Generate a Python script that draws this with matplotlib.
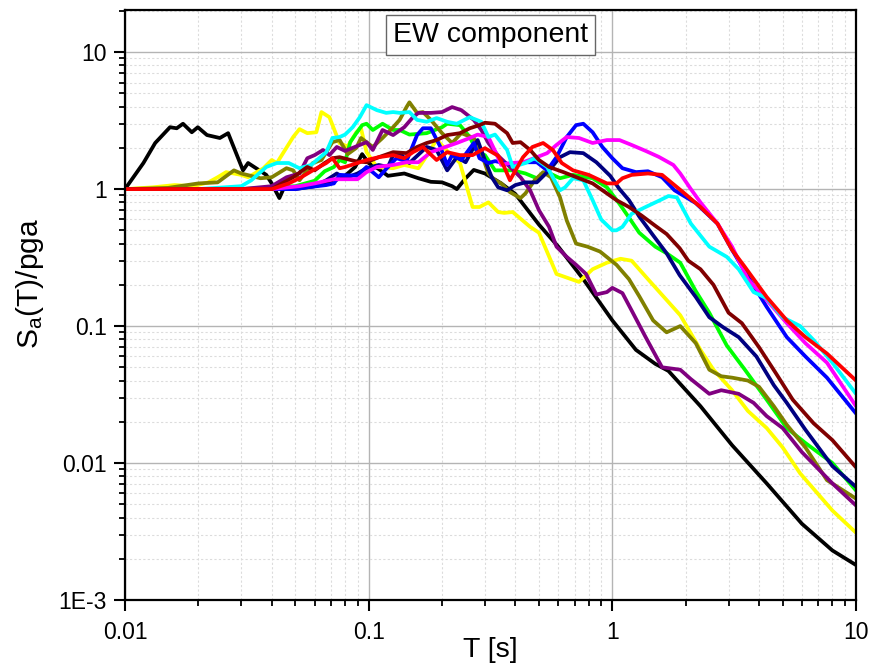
import matplotlib
matplotlib.use("Agg")
import matplotlib.pyplot as plt
from matplotlib.ticker import LogLocator, FixedLocator, FixedFormatter, NullFormatter
import numpy as np

plt.rcParams['font.family'] = ['Liberation Sans', 'DejaVu Sans']
plt.rcParams['mathtext.fontset'] = 'custom'
plt.rcParams['mathtext.rm'] = 'Liberation Sans'
plt.rcParams['mathtext.it'] = 'Liberation Sans'

# ---- data (T [s], Sa/pga) ----
black_T = [0.01, 0.0119, 0.0133, 0.0153, 0.0163, 0.0173, 0.0188, 0.0199, 0.0217, 0.0245, 0.0265, 0.0305, 0.032, 0.038, 0.040, 0.043, 0.045, 0.05, 0.06, 0.07, 0.08, 0.088, 0.094, 0.1, 0.11, 0.12, 0.14, 0.16, 0.18, 0.2, 0.22, 0.23, 0.25, 0.27, 0.3, 0.35, 0.4, 0.5, 0.6, 0.76, 1.0, 1.25, 1.5, 1.7, 2.3, 3.1, 4.3, 6.0, 8.0, 10.0]
black_S = [1.0, 1.55, 2.17, 2.83, 2.78, 3.0, 2.6, 2.83, 2.48, 2.36, 2.56, 1.37, 1.55, 1.27, 1.1, 0.86, 1.03, 1.02, 1.05, 1.12, 1.25, 1.45, 1.8, 1.55, 1.4, 1.25, 1.3, 1.2, 1.13, 1.12, 1.05, 1.0, 1.2, 1.38, 1.3, 1.1, 0.92, 0.55, 0.38, 0.22, 0.11, 0.067, 0.053, 0.047, 0.026, 0.0135, 0.0071, 0.0036, 0.0023, 0.0018]

yellow_T = [0.01, 0.013, 0.016, 0.019, 0.022, 0.024, 0.026, 0.03, 0.032, 0.037, 0.04, 0.042, 0.049, 0.052, 0.056, 0.061, 0.064, 0.069, 0.076, 0.082, 0.089, 0.093, 0.098, 0.108, 0.126, 0.14, 0.16, 0.175, 0.19, 0.21, 0.237, 0.267, 0.285, 0.31, 0.34, 0.36, 0.39, 0.46, 0.5, 0.59, 0.73, 0.83, 0.95, 1.08, 1.2, 1.4, 1.67, 1.9, 2.3, 2.6, 3.1, 3.6, 4.3, 5.0, 5.9, 8.0, 10.0]
yellow_S = [1.0, 1.03, 1.07, 1.05, 1.12, 1.22, 1.33, 1.27, 1.22, 1.42, 1.63, 1.55, 2.4, 2.74, 2.56, 2.6, 3.65, 3.35, 2.16, 2.05, 2.6, 2.78, 1.86, 1.45, 1.42, 1.5, 1.42, 1.8, 2.3, 1.9, 1.55, 0.74, 0.74, 0.8, 0.68, 0.67, 0.68, 0.53, 0.48, 0.24, 0.21, 0.26, 0.29, 0.31, 0.3, 0.22, 0.155, 0.12, 0.067, 0.048, 0.034, 0.024, 0.018, 0.013, 0.0084, 0.0045, 0.0031]

cyan_T = [0.01, 0.02, 0.03, 0.033, 0.038, 0.042, 0.047, 0.052, 0.058, 0.067, 0.071, 0.076, 0.08, 0.086, 0.092, 0.098, 0.108, 0.118, 0.126, 0.134, 0.147, 0.158, 0.173, 0.19, 0.21, 0.23, 0.26, 0.29, 0.31, 0.33, 0.37, 0.39, 0.44, 0.48, 0.54, 0.61, 0.64, 0.69, 0.76, 0.83, 0.9, 1.0, 1.04, 1.1, 1.2, 1.37, 1.57, 1.7, 1.84, 2.1, 2.5, 2.95, 3.3, 3.8, 4.3, 5.0, 5.9, 6.7, 8.0, 10.0]
cyan_S = [1.0, 1.0, 1.05, 1.16, 1.45, 1.55, 1.55, 1.42, 1.5, 1.86, 2.36, 2.4, 2.5, 2.83, 3.35, 4.1, 3.77, 3.6, 3.65, 3.6, 3.65, 3.2, 3.1, 3.3, 3.1, 3.0, 3.35, 3.1, 2.4, 2.5, 1.93, 1.45, 1.55, 1.68, 1.45, 0.98, 1.03, 1.2, 1.16, 0.83, 0.6, 0.5, 0.5, 0.53, 0.66, 0.74, 0.83, 0.89, 0.87, 0.56, 0.38, 0.32, 0.26, 0.177, 0.16, 0.116, 0.1, 0.079, 0.054, 0.032]

green_T = [0.01, 0.03, 0.05, 0.06, 0.066, 0.072, 0.076, 0.08, 0.084, 0.089, 0.094, 0.098, 0.104, 0.114, 0.126, 0.134, 0.147, 0.173, 0.2, 0.21, 0.237, 0.26, 0.28, 0.3, 0.33, 0.39, 0.44, 0.49, 0.54, 0.61, 0.69, 0.83, 0.95, 1.07, 1.17, 1.29, 1.5, 1.67, 1.9, 2.2, 2.5, 2.95, 3.5, 4.3, 5.2, 6.2, 8.0, 10.0]
green_S = [1.0, 1.0, 1.05, 1.15, 1.35, 1.45, 1.63, 1.57, 2.2, 2.56, 2.93, 3.0, 2.7, 3.0, 2.7, 2.7, 2.5, 2.56, 2.83, 3.0, 2.93, 2.4, 1.83, 1.77, 1.37, 1.37, 1.3, 1.2, 1.33, 1.2, 1.27, 1.2, 1.03, 0.78, 0.62, 0.48, 0.38, 0.34, 0.29, 0.18, 0.125, 0.072, 0.048, 0.029, 0.018, 0.014, 0.01, 0.0063]

olive_T = [0.01, 0.015, 0.02, 0.024, 0.028, 0.03, 0.036, 0.04, 0.046, 0.049, 0.052, 0.059, 0.064, 0.071, 0.076, 0.082, 0.089, 0.093, 0.104, 0.114, 0.126, 0.134, 0.143, 0.147, 0.158, 0.167, 0.18, 0.2, 0.22, 0.24, 0.27, 0.29, 0.31, 0.33, 0.35, 0.38, 0.42, 0.44, 0.48, 0.52, 0.56, 0.61, 0.65, 0.71, 0.79, 0.89, 1.04, 1.17, 1.29, 1.47, 1.67, 1.9, 2.2, 2.5, 2.8, 3.1, 3.6, 4.0, 4.6, 5.2, 6.2, 7.6, 10.0]
olive_S = [1.0, 1.02, 1.1, 1.12, 1.37, 1.3, 1.2, 1.22, 1.42, 1.37, 1.16, 1.55, 1.63, 2.2, 2.28, 1.8, 2.0, 2.36, 2.03, 2.36, 2.83, 3.2, 3.97, 4.3, 3.6, 3.65, 3.2, 2.56, 2.17, 2.56, 2.36, 1.83, 1.3, 1.16, 1.1, 0.95, 0.86, 0.93, 1.16, 1.33, 1.22, 0.87, 0.59, 0.4, 0.38, 0.35, 0.28, 0.22, 0.165, 0.11, 0.09, 0.1, 0.075, 0.048, 0.043, 0.042, 0.04, 0.036, 0.026, 0.019, 0.013, 0.0075, 0.0055]

purple_T = [0.01, 0.03, 0.04, 0.046, 0.052, 0.056, 0.06, 0.065, 0.069, 0.074, 0.08, 0.089, 0.098, 0.104, 0.114, 0.126, 0.14, 0.152, 0.16, 0.18, 0.2, 0.22, 0.24, 0.27, 0.29, 0.31, 0.34, 0.38, 0.42, 0.46, 0.5, 0.55, 0.59, 0.65, 0.71, 0.78, 0.86, 0.95, 1.0, 1.1, 1.2, 1.37, 1.6, 1.9, 2.1, 2.5, 2.8, 3.3, 3.8, 4.3, 5.0, 6.0, 8.0, 10.0]
purple_S = [1.0, 1.0, 1.05, 1.22, 1.3, 1.68, 1.77, 1.93, 1.77, 2.03, 1.9, 2.05, 2.2, 1.93, 2.7, 2.48, 2.83, 3.35, 3.6, 3.6, 3.65, 3.97, 3.77, 3.2, 2.7, 2.17, 1.75, 1.45, 1.22, 0.98, 0.7, 0.53, 0.38, 0.32, 0.28, 0.24, 0.17, 0.177, 0.19, 0.174, 0.13, 0.083, 0.05, 0.048, 0.041, 0.032, 0.034, 0.032, 0.0275, 0.022, 0.018, 0.012, 0.0071, 0.0049]

red_T = [0.01, 0.04, 0.047, 0.052, 0.059, 0.067, 0.071, 0.076, 0.08, 0.085, 0.09, 0.098, 0.11, 0.126, 0.14, 0.152, 0.167, 0.19, 0.21, 0.237, 0.267, 0.3, 0.34, 0.36, 0.38, 0.43, 0.47, 0.52, 0.57, 0.62, 0.69, 0.8, 0.95, 1.04, 1.1, 1.2, 1.4, 1.6, 1.95, 2.3, 2.7, 3.1, 3.5, 4.3, 5.2, 6.2, 7.6, 10.0]
red_S = [1.0, 1.0, 1.1, 1.2, 1.37, 1.55, 1.68, 1.42, 1.45, 1.5, 1.55, 1.63, 1.71, 1.77, 1.68, 1.86, 2.03, 1.63, 1.86, 1.77, 1.77, 1.99, 1.75, 1.45, 1.16, 1.71, 2.03, 2.17, 1.93, 1.55, 1.37, 1.27, 1.1, 1.1, 1.2, 1.27, 1.3, 1.27, 0.95, 0.74, 0.56, 0.36, 0.27, 0.163, 0.11, 0.083, 0.063, 0.04]

magenta_T = [0.01, 0.04, 0.052, 0.06, 0.072, 0.09, 0.098, 0.108, 0.126, 0.143, 0.16, 0.18, 0.2, 0.23, 0.26, 0.28, 0.31, 0.33, 0.35, 0.38, 0.43, 0.49, 0.54, 0.59, 0.65, 0.73, 0.83, 0.95, 1.07, 1.2, 1.37, 1.55, 1.78, 1.9, 2.1, 2.3, 2.7, 3.1, 3.6, 4.3, 5.2, 6.2, 7.6, 10.0]
magenta_S = [1.0, 1.0, 1.05, 1.1, 1.18, 1.18, 1.33, 1.45, 1.5, 1.57, 1.57, 1.86, 1.99, 2.17, 2.36, 2.5, 2.4, 1.9, 1.5, 1.55, 1.57, 1.71, 1.83, 2.1, 2.4, 2.36, 2.17, 2.28, 2.28, 2.1, 1.9, 1.72, 1.5, 1.3, 1.0, 0.8, 0.56, 0.38, 0.22, 0.155, 0.105, 0.075, 0.054, 0.026]

blue_T = [0.01, 0.05, 0.056, 0.067, 0.072, 0.076, 0.09, 0.098, 0.11, 0.12, 0.13, 0.143, 0.158, 0.167, 0.18, 0.197, 0.21, 0.22, 0.24, 0.27, 0.285, 0.31, 0.33, 0.39, 0.44, 0.49, 0.54, 0.59, 0.65, 0.71, 0.76, 0.83, 0.91, 1.0, 1.1, 1.25, 1.4, 1.6, 1.8, 2.2, 2.7, 3.1, 3.6, 4.3, 5.2, 6.2, 7.6, 10.0]
blue_S = [1.0, 1.0, 1.03, 1.07, 1.1, 1.27, 1.25, 1.45, 1.22, 1.45, 1.68, 1.6, 2.48, 2.78, 2.78, 2.03, 1.5, 1.77, 1.63, 2.17, 1.68, 1.55, 1.6, 1.5, 1.57, 1.57, 1.37, 1.71, 2.4, 2.93, 3.0, 2.6, 2.03, 1.68, 1.42, 1.33, 1.35, 1.22, 0.98, 0.79, 0.56, 0.36, 0.23, 0.138, 0.083, 0.06, 0.042, 0.023]

navy_T = [0.01, 0.05, 0.06, 0.067, 0.074, 0.08, 0.09, 0.098, 0.11, 0.12, 0.126, 0.134, 0.147, 0.173, 0.19, 0.21, 0.23, 0.25, 0.28, 0.3, 0.32, 0.34, 0.37, 0.4, 0.44, 0.49, 0.55, 0.61, 0.67, 0.76, 0.86, 0.98, 1.07, 1.17, 1.29, 1.47, 1.67, 1.89, 2.2, 2.5, 2.85, 3.3, 3.9, 4.6, 5.2, 6.2, 8.0, 10.0]
navy_S = [1.0, 1.0, 1.05, 1.16, 1.3, 1.2, 1.3, 1.42, 1.5, 1.45, 1.77, 1.83, 1.55, 2.03, 1.93, 1.37, 1.71, 1.57, 2.28, 1.63, 1.22, 1.03, 0.98, 1.07, 1.12, 1.12, 1.37, 1.71, 1.86, 1.83, 1.57, 1.25, 1.0, 0.83, 0.63, 0.46, 0.34, 0.235, 0.163, 0.116, 0.098, 0.083, 0.06, 0.037, 0.0275, 0.0175, 0.0095, 0.0067]

maroon_T = [0.01, 0.04, 0.049, 0.056, 0.06, 0.066, 0.071, 0.076, 0.088, 0.098, 0.11, 0.126, 0.143, 0.158, 0.173, 0.19, 0.21, 0.237, 0.26, 0.285, 0.3, 0.33, 0.37, 0.39, 0.42, 0.46, 0.5, 0.55, 0.63, 0.73, 0.83, 0.95, 1.04, 1.17, 1.32, 1.5, 1.67, 1.89, 2.05, 2.3, 2.6, 3.0, 3.4, 4.0, 4.7, 5.5, 6.7, 8.0, 10.0]
maroon_S = [1.0, 1.0, 1.22, 1.45, 1.37, 1.55, 1.68, 1.71, 1.6, 1.57, 1.71, 1.86, 1.83, 2.03, 2.17, 2.28, 2.48, 2.56, 2.78, 2.93, 3.05, 3.0, 2.56, 2.17, 2.2, 1.93, 1.63, 1.45, 1.33, 1.2, 1.1, 0.93, 0.83, 0.74, 0.64, 0.54, 0.47, 0.37, 0.3, 0.26, 0.2, 0.125, 0.105, 0.07, 0.045, 0.029, 0.0195, 0.0147, 0.0093]

series = [
    (black_T, black_S, '#000000'),
    (yellow_T, yellow_S, '#FFFF00'),
    (green_T, green_S, '#00FF00'),
    (olive_T, olive_S, '#808000'),
    (purple_T, purple_S, '#800080'),
    (navy_T, navy_S, '#000080'),
    (blue_T, blue_S, '#0000FF'),
    (magenta_T, magenta_S, '#FF00FF'),
    (cyan_T, cyan_S, '#00FFFF'),
    (maroon_T, maroon_S, '#800000'),
    (red_T, red_S, '#FF0000'),
]

ytick_vals = [1e-3, 1e-2, 1e-1, 1, 10]
ytick_labels = ['1E-3', '0.01', '0.1', '1', '10']
xtick_vals = [0.01, 0.1, 1, 10]
xtick_labels = ['0.01', '0.1', '1', '10']

fig = plt.figure(figsize=(8.83, 6.67), dpi=100)
ax = fig.add_axes([125/883, 67/667, (856-125)/883, (600-10)/667])

for T, S, c in series:
    ax.plot(T, S, color=c, lw=2.7, solid_joinstyle='round', solid_capstyle='round')

ax.set_xscale('log')
ax.set_yscale('log')
ax.set_xlim(0.01, 10)
ax.set_ylim(1e-3, 20.3)

ax.yaxis.set_major_locator(FixedLocator(ytick_vals))
ax.yaxis.set_major_formatter(FixedFormatter(ytick_labels))
ax.xaxis.set_major_locator(FixedLocator(xtick_vals))
ax.xaxis.set_major_formatter(FixedFormatter(xtick_labels))
ax.xaxis.set_minor_locator(LogLocator(base=10, subs=np.arange(2, 10), numticks=20))
ax.yaxis.set_minor_locator(LogLocator(base=10, subs=np.arange(2, 10), numticks=20))
ax.xaxis.set_minor_formatter(NullFormatter())
ax.yaxis.set_minor_formatter(NullFormatter())

ax.grid(True, which='major', color='#b4b4b4', lw=1.0, ls='-')
ax.grid(True, which='minor', color='#dcdcdc', lw=0.8, ls=(0, (2, 2)))
ax.set_axisbelow(True)

ax.tick_params(which='major', direction='out', length=8, width=1.5, labelsize=16.5)
ax.tick_params(axis='x', which='major', pad=7)
ax.tick_params(axis='y', which='major', pad=5)
ax.tick_params(which='minor', direction='out', length=4.5, width=1.3)
for s in ax.spines.values():
    s.set_linewidth(1.6)
    s.set_color('black')

ax.set_xlabel('T [s]', fontsize=20.5)
ax.xaxis.set_label_coords(0.5, -0.062)
ax.xaxis.label.set_va('top')
ax.set_ylabel(r'S$_\mathregular{a}$(T)/pga', fontsize=21.5)
ax.yaxis.set_label_coords(-0.108, 0.537)

ax.text(0.5, 0.958, 'EW component', transform=ax.transAxes, ha='center', va='center',
        fontsize=20.5, bbox=dict(boxstyle='square,pad=0.24', fc='white', ec='#666666', lw=1.0))

fig.savefig('out.png', dpi=100)
